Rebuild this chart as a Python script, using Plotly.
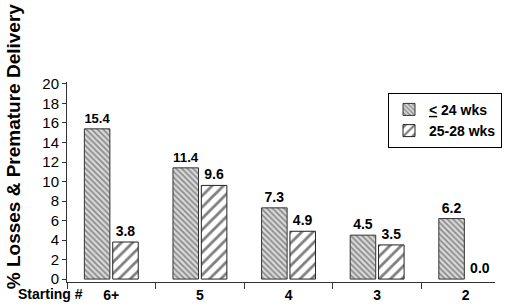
import plotly.graph_objects as go

categories = ["6+", "5", "4", "3", "2"]
le24 = [15.4, 11.4, 7.3, 4.5, 6.2]
w25_28 = [3.8, 9.6, 4.9, 3.5, 0.0]
series_names = ['<b><span style="text-decoration:underline"><</span> 24 wks</b>', "<b>25-28 wks</b>"]
yticks = list(range(0, 21, 2))

FONT = "Liberation Sans, Arial, sans-serif"


def edge_widths(vals):
    return [1 if v > 0 else 0 for v in vals]


fig = go.Figure()
fig.add_trace(go.Bar(
    x=categories, y=le24, name=series_names[0],
    marker=dict(color="white", line=dict(color="#333", width=edge_widths(le24)),
                pattern=dict(shape="\\", fgcolor="#333", bgcolor="#d8d8d8", size=4, solidity=0.38)),
    texttemplate="<b>%{y:.1f}</b>", textposition="outside",
    textfont=dict(family=FONT, size=14, color="black"), cliponaxis=False,
))
fig.add_trace(go.Bar(
    x=categories, y=w25_28, name=series_names[1],
    marker=dict(color="white", line=dict(color="#222", width=edge_widths(w25_28)),
                pattern=dict(shape="/", fgcolor="black", bgcolor="white", size=8, solidity=0.35)),
    texttemplate="<b>%{y:.1f}</b>", textposition="outside",
    textfont=dict(family=FONT, size=14, color="black"), cliponaxis=False,
))

fig.update_layout(
    width=507, height=308,
    margin=dict(l=67, r=5, t=82, b=21),
    paper_bgcolor="white", plot_bgcolor="white",
    barmode="group", bargap=0.36, bargroupgap=0.1,
    font=dict(family=FONT, size=14, color="black"),
    showlegend=True,
    legend=dict(x=0.75, y=0.946, xanchor="left", yanchor="top",
                bordercolor="black", borderwidth=1, bgcolor="white",
                font=dict(family=FONT, size=14, color="black"),
                itemwidth=30, tracegroupgap=0),
    xaxis=dict(range=[-0.5, 4.33], showline=True, linecolor="#333", linewidth=1,
               ticks="outside", tickson="boundaries", ticklen=6, tickcolor="#333",
               tickfont=dict(family=FONT, size=14, color="black"),
               tickprefix="<b>", ticksuffix="</b>", showgrid=False),
    yaxis=dict(range=[-0.3, 20.2], tickvals=yticks, showline=True, linecolor="#333",
               linewidth=1, ticks="outside", ticklen=4, tickcolor="#333",
               tickfont=dict(family=FONT, size=15, color="black"),
               tickprefix="<b>", ticksuffix="</b>", showgrid=False, zeroline=False),
    annotations=[
        dict(text="<b>% Losses & Premature Delivery</b>", textangle=-90,
             xref="paper", yref="paper", x=-54 / 435, y=(287 - 148) / 205,
             xanchor="center", yanchor="middle", showarrow=False,
             font=dict(family=FONT, size=19, color="black")),
        dict(text="<b>Starting #</b>", xref="paper", yref="paper",
             x=-17 / 435, y=-12 / 205, xanchor="center", yanchor="middle",
             showarrow=False, font=dict(family=FONT, size=14, color="black")),
    ],
)

fig.write_html("out.html")
